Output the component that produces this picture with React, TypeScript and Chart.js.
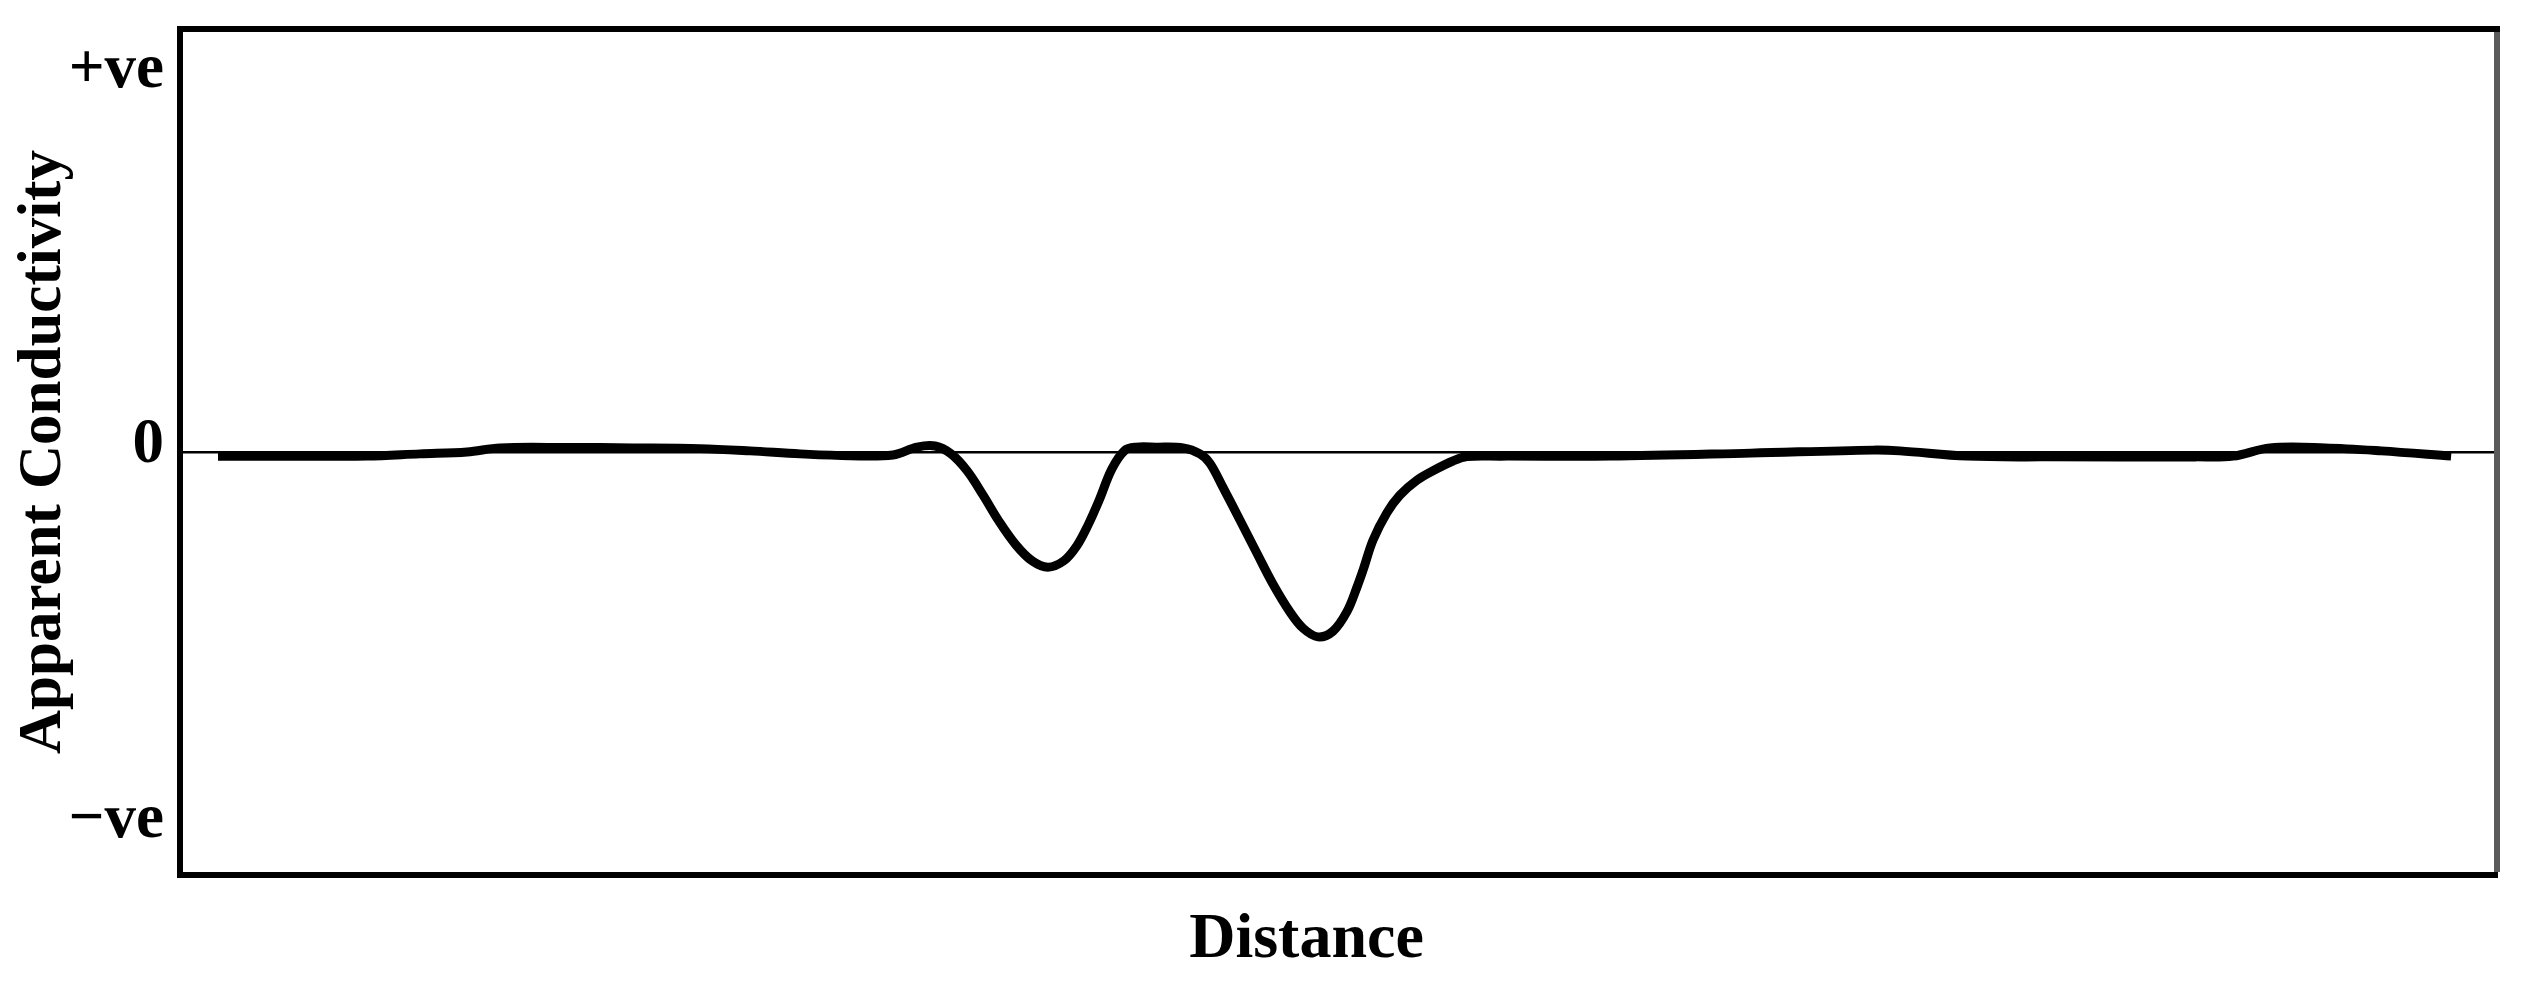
import React, { useEffect, useRef } from "react";
import { Chart, registerables } from "chart.js";

Chart.register(...registerables);

// Distance (arbitrary units, 0–100 across the plot)
const distance = [
  1.64, 5.18, 8.07, 10.36, 12.39, 13.81, 16.7, 19.55, 22.44, 24.6, 26.76, 28.92,
  30.77, 31.81, 32.59, 33.28, 33.97, 34.66, 35.35, 36.08, 36.77, 37.46, 38.15,
  38.71, 39.19, 39.66, 40.22, 40.79, 41.26, 42.12, 43.29, 44.02, 44.45, 45.02,
  45.75, 46.48, 47.17, 47.91, 48.47, 49.11, 49.76, 50.37, 50.8, 51.06, 51.49,
  52.09, 52.65, 53.39, 54.08, 54.94, 55.55, 56.97, 61.72, 67.8, 73.07, 74.23,
  77.13, 80.62, 87.01, 88.61, 90.2, 92.58, 95.0, 98.02,
];

// Apparent conductivity (1 = "+ve" level, -1 = "−ve" level)
const conductivity = [
  -0.011, -0.011, -0.011, -0.005, 0.0, 0.011, 0.012, 0.011, 0.009, 0.003,
  -0.005, -0.01, -0.008, 0.013, 0.016, -0.005, -0.05, -0.115, -0.185, -0.248,
  -0.29, -0.307, -0.29, -0.25, -0.195, -0.13, -0.045, 0.005, 0.013, 0.013,
  0.011, -0.005, -0.03, -0.095, -0.182, -0.27, -0.352, -0.427, -0.47,
  -0.493, -0.478, -0.425, -0.36, -0.315, -0.235, -0.162, -0.115, -0.075, -0.05,
  -0.024, -0.012, -0.011, -0.011, -0.003, 0.005, 0.003, -0.011, -0.013, -0.013,
  -0.011, 0.011, 0.011, 0.003, -0.011,
];

const yTickValues = [-1, 0, 1];
const yTickLabels = ["\u2212ve", "0", "+ve"];
const xTitle = "Distance\u2003";
const yTitle = "Apparent Conductivity";

const FONT = "'Liberation Serif', 'Times New Roman', serif";

const frameBorder = {
  id: "frameBorder",
  afterDatasetsDraw(chart: any) {
    const { ctx, chartArea } = chart;
    const { left, right, top, bottom } = chartArea;
    ctx.save();
    ctx.lineWidth = 6;
    ctx.strokeStyle = "#000";
    ctx.beginPath();
    ctx.moveTo(left - 3, top);
    ctx.lineTo(right + 3, top);
    ctx.stroke();
    ctx.strokeStyle = "#5a5a5a";
    ctx.beginPath();
    ctx.moveTo(right, top + 3);
    ctx.lineTo(right, bottom - 3);
    ctx.stroke();
    ctx.restore();
  },
};

export default function App() {
  const ref = useRef<HTMLCanvasElement | null>(null);

  useEffect(() => {
    if (!ref.current) return;
    const chart = new Chart(ref.current, {
      type: "line",
      data: {
        datasets: [
          {
            data: distance.map((d, i) => ({ x: d, y: conductivity[i] })),
            borderColor: "#000",
            borderWidth: 9,
            pointRadius: 0,
            tension: 0.35,
            borderCapStyle: "butt",
            borderJoinStyle: "round",
            fill: false,
          },
        ],
      },
      options: {
        animation: false,
        responsive: true,
        maintainAspectRatio: false,
        devicePixelRatio: 1,
        layout: { padding: { left: 0, top: 29, right: 31, bottom: 0 } },
        plugins: {
          legend: { display: false },
          tooltip: { enabled: false },
        },
        scales: {
          x: {
            type: "linear",
            min: 0,
            max: 100,
            grid: { display: false, drawTicks: false },
            border: { display: true, color: "#000", width: 6 },
            ticks: { display: false },
            title: {
              display: true,
              text: xTitle,
              color: "#000",
              font: { family: FONT, size: 64, weight: "bold", lineHeight: 1 },
              padding: { top: 0, bottom: 17 },
            },
            afterFit: (scale: any) => {
              scale.height = 114;
              scale.paddingLeft = 0;
              scale.paddingRight = 0;
            },
          },
          y: {
            type: "linear",
            min: -1.128,
            max: 1.128,
            afterBuildTicks: (scale: any) => {
              scale.ticks = yTickValues.map((v) => ({ value: v }));
            },
            grid: {
              drawTicks: false,
              color: (c: any) => (c.tick && c.tick.value === 0 ? "#000" : "rgba(0,0,0,0)"),
              lineWidth: (c: any) => (c.tick && c.tick.value === 0 ? 2.5 : 0),
            },
            border: { display: true, color: "#000", width: 6 },
            ticks: {
              color: "#000",
              padding: 16,
              labelOffset: -6,
              font: { family: FONT, size: 63, weight: "bold" },
              callback: (v: any) => {
                const i = yTickValues.indexOf(Number(v));
                return i >= 0 ? yTickLabels[i] : "";
              },
            },
            title: {
              display: true,
              text: yTitle,
              color: "#000",
              font: { family: FONT, size: 61, weight: "bold", lineHeight: 1 },
              padding: { top: 14, bottom: 0 },
            },
            afterFit: (scale: any) => {
              scale.width = 180;
              scale.paddingTop = 0;
              scale.paddingBottom = 0;
            },
          },
        },
      },
      plugins: [frameBorder],
    } as any);
    return () => chart.destroy();
  }, []);

  return (
    <div
      style={{
        position: "fixed",
        left: 0,
        top: 0,
        width: 2528,
        height: 989,
        background: "#fff",
      }}
    >
      <canvas ref={ref} />
    </div>
  );
}
